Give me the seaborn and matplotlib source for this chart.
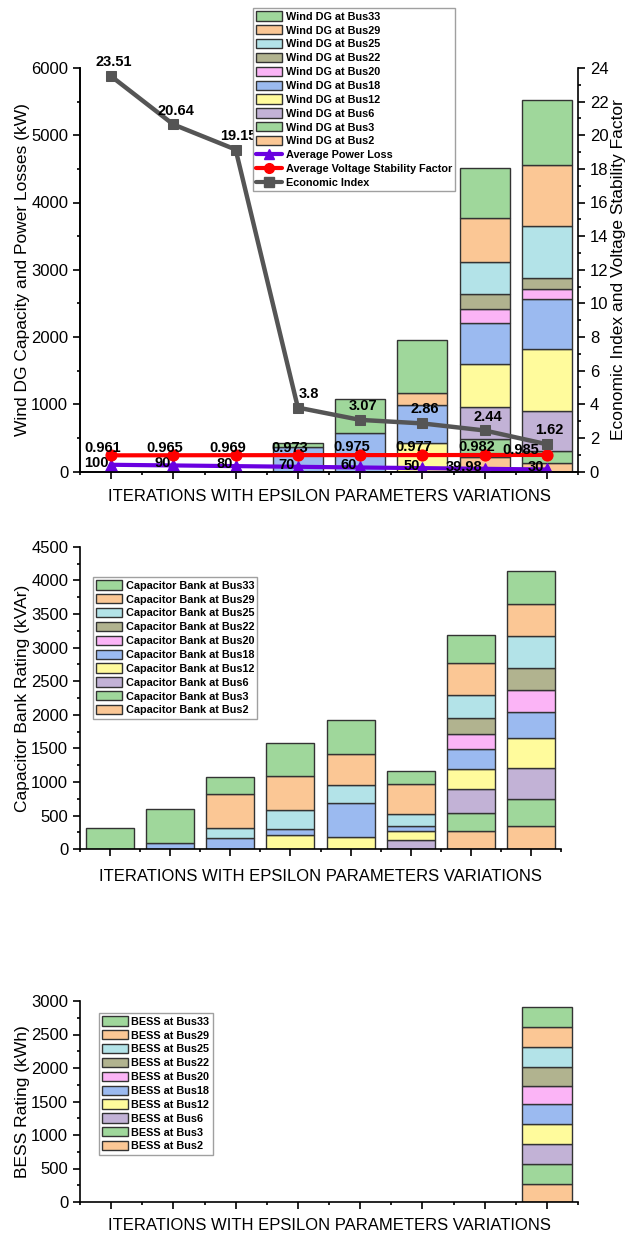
import numpy as np
import pandas as pd
import matplotlib
matplotlib.use("Agg")
import matplotlib.pyplot as plt
import seaborn as sns
from matplotlib.ticker import MultipleLocator, FixedLocator, NullFormatter
from matplotlib.patches import Patch
from matplotlib.lines import Line2D

# ---------------------------------------------------------------- data
iterations = ["1", "2", "3", "4", "5", "6", "7", "8"]
buses = ["Bus2", "Bus3", "Bus6", "Bus12", "Bus18", "Bus20", "Bus22", "Bus25", "Bus29", "Bus33"]

# Wind DG capacity (kW) per bus, one value per iteration
wind_bus2 = [0, 0, 0, 0, 0, 0, 210, 125]
wind_bus3 = [0, 0, 0, 0, 0, 0, 280, 175]
wind_bus6 = [0, 0, 0, 0, 0, 0, 465, 600]
wind_bus12 = [0, 0, 0, 0, 0, 430, 645, 920]
wind_bus18 = [0, 0, 0, 360, 570, 555, 610, 740]
wind_bus20 = [0, 0, 0, 0, 0, 0, 210, 150]
wind_bus22 = [0, 0, 0, 0, 0, 0, 225, 165]
wind_bus25 = [0, 0, 0, 0, 0, 0, 475, 770]
wind_bus29 = [0, 0, 0, 0, 0, 185, 655, 920]
wind_bus33 = [0, 0, 0, 60, 510, 785, 735, 955]

# Capacitor bank rating (kVAr)
cap_bus2 = [0, 0, 0, 0, 0, 0, 265, 350]
cap_bus3 = [0, 0, 0, 0, 0, 0, 280, 405]
cap_bus6 = [0, 0, 0, 0, 0, 140, 345, 460]
cap_bus12 = [0, 0, 0, 215, 180, 135, 310, 435]
cap_bus18 = [0, 90, 165, 85, 505, 65, 285, 385]
cap_bus20 = [0, 0, 0, 0, 0, 0, 230, 335]
cap_bus22 = [0, 0, 0, 0, 0, 0, 235, 325]
cap_bus25 = [0, 0, 150, 280, 275, 185, 345, 470]
cap_bus29 = [0, 0, 505, 505, 460, 445, 470, 485]
cap_bus33 = [310, 505, 260, 495, 505, 200, 420, 485]

# BESS rating (kWh)
bess_bus2 = [0, 0, 0, 0, 0, 0, 0, 273]
bess_bus3 = [0, 0, 0, 0, 0, 0, 0, 298]
bess_bus6 = [0, 0, 0, 0, 0, 0, 0, 293]
bess_bus12 = [0, 0, 0, 0, 0, 0, 0, 298]
bess_bus18 = [0, 0, 0, 0, 0, 0, 0, 302]
bess_bus20 = [0, 0, 0, 0, 0, 0, 0, 273]
bess_bus22 = [0, 0, 0, 0, 0, 0, 0, 283]
bess_bus25 = [0, 0, 0, 0, 0, 0, 0, 293]
bess_bus29 = [0, 0, 0, 0, 0, 0, 0, 302]
bess_bus33 = [0, 0, 0, 0, 0, 0, 0, 302]

# Line series
power_loss = [100, 90, 80, 70, 60, 50, 39.98, 30]
voltage_stability = [0.961, 0.965, 0.969, 0.973, 0.975, 0.977, 0.982, 0.985]
economic_index = [23.51, 20.64, 19.15, 3.8, 3.07, 2.86, 2.44, 1.62]

x_title = "ITERATIONS WITH EPSILON PARAMETERS VARIATIONS"


def long_frame(series):
    rows = []
    for bus, vals in zip(buses, series):
        for it, v in zip(iterations, vals):
            rows.append({"iteration": it, "bus": bus, "value": v})
    return pd.DataFrame(rows)


wind_df = long_frame([wind_bus2, wind_bus3, wind_bus6, wind_bus12, wind_bus18,
                      wind_bus20, wind_bus22, wind_bus25, wind_bus29, wind_bus33])
cap_df = long_frame([cap_bus2, cap_bus3, cap_bus6, cap_bus12, cap_bus18,
                     cap_bus20, cap_bus22, cap_bus25, cap_bus29, cap_bus33])
bess_df = long_frame([bess_bus2, bess_bus3, bess_bus6, bess_bus12, bess_bus18,
                      bess_bus20, bess_bus22, bess_bus25, bess_bus29, bess_bus33])

# ---------------------------------------------------------------- style
sns.set_style("ticks")
plt.rcParams["font.family"] = ["Liberation Sans", "DejaVu Sans"]
plt.rcParams["axes.linewidth"] = 1.2
for key in ("text.color", "axes.labelcolor", "xtick.color", "ytick.color", "axes.edgecolor"):
    plt.rcParams[key] = "black"

GREEN = "#9fd79b"
PEACH = "#fbc795"
bus_colors = {
    "Bus2": PEACH, "Bus3": GREEN, "Bus6": "#c2b2d6", "Bus12": "#fffb9c",
    "Bus18": "#9bbaf0", "Bus20": "#fbb4f6", "Bus22": "#b1b38f",
    "Bus25": "#b3e3e8", "Bus29": PEACH, "Bus33": GREEN,
}
EDGE = "#333333"
PURPLE = "#6a00e0"
RED = "#ff0000"
GREY = "#555555"


def stacked_bars(ax, frame):
    base = pd.Series(0.0, index=iterations)
    for bus in buses:
        sub = frame[(frame.bus == bus) & (frame.value > 0)]
        if not sub.empty:
            sns.barplot(data=sub, x="iteration", y="value", order=iterations,
                        color=bus_colors[bus], saturation=1, width=0.8,
                        bottom=base[sub.iteration].to_numpy(),
                        edgecolor=EDGE, linewidth=1.0, errorbar=None, ax=ax)
        base = base.add(frame[frame.bus == bus].set_index("iteration")["value"], fill_value=0)


def style_axis(ax, ymax, ymajor, yminor, ylabel, xpad):
    ax.set_xlim(-0.5, len(iterations) - 0.5)
    ax.set_ylim(0, ymax)
    ax.yaxis.set_major_locator(MultipleLocator(ymajor))
    ax.yaxis.set_minor_locator(MultipleLocator(yminor))
    ax.xaxis.set_major_locator(FixedLocator(np.arange(len(iterations))))
    ax.xaxis.set_minor_locator(FixedLocator(np.arange(-0.5, len(iterations), 1.0)))
    ax.xaxis.set_major_formatter(NullFormatter())
    ax.tick_params(axis="both", which="major", direction="out", length=5, width=1.2,
                   labelsize=12, colors="black")
    ax.tick_params(axis="both", which="minor", direction="out", length=2.5, width=1.2)
    ax.set_xlabel(x_title, fontsize=12, labelpad=xpad)
    ax.set_ylabel(ylabel, fontsize=12.5, labelpad=1)
    for s in ("top", "right"):
        ax.spines[s].set_visible(False)


def bus_legend(ax, prefix, anchor, extra_handles=(), extra_labels=()):
    handles = [Patch(facecolor=bus_colors[b], edgecolor=EDGE, linewidth=1.0)
               for b in reversed(buses)] + list(extra_handles)
    labels = [f"{prefix} at {b}" for b in reversed(buses)] + list(extra_labels)
    leg = ax.legend(handles, labels, loc="upper left", bbox_to_anchor=anchor,
                    bbox_transform=fig.transFigure, borderaxespad=0,
                    prop=dict(weight="bold", size=7.8), frameon=True, fancybox=False,
                    edgecolor="#a0a0a0", framealpha=1, borderpad=0.3,
                    labelspacing=0.32, handlelength=2.4, handleheight=0.95,
                    handletextpad=0.3)
    leg.get_frame().set_linewidth(1.0)
    leg.set_zorder(20)
    return leg


W, H = 639, 1237
fig = plt.figure(figsize=(W / 100, H / 100), dpi=100)
ax_top = fig.add_axes([80 / W, 1 - 471.5 / H, 498 / W, (471.5 - 68) / H])
ax_mid = fig.add_axes([80 / W, 1 - 849.3 / H, 481 / W, (849.3 - 546.7) / H])
ax_bot = fig.add_axes([80 / W, 1 - 1202 / H, 498 / W, (1202 - 1001) / H])

pos = np.arange(len(iterations))
LABEL_FONT = dict(fontsize=10.5, fontweight="bold", color="black")

# ---------------------------------------------------------------- top panel
stacked_bars(ax_top, wind_df)
style_axis(ax_top, 6000, 1000, 500, "Wind DG Capacity and Power Losses (kW)", 4)

sns.lineplot(x=pos, y=power_loss, ax=ax_top, color=PURPLE, lw=3, marker="^",
             markersize=8, markeredgecolor=PURPLE, zorder=10)
for xi, v in zip(pos, power_loss):
    ax_top.annotate(f"{v:g}", (xi, v), xytext=(-2, 1.5), textcoords="offset points",
                    ha="right", va="center", zorder=11, **LABEL_FONT)

ax_r = ax_top.twinx()
sns.lineplot(x=pos, y=voltage_stability, ax=ax_r, color=RED, lw=3, marker="o",
             markersize=8, markeredgecolor=RED, zorder=10)
sns.lineplot(x=pos, y=economic_index, ax=ax_r, color=GREY, lw=3.2, marker="s",
             markersize=7.5, markeredgecolor=GREY, zorder=10)
ax_r.set_ylim(0, 24)
ax_r.set_xlim(-0.5, len(iterations) - 0.5)
ax_r.yaxis.set_major_locator(MultipleLocator(2))
ax_r.yaxis.set_minor_locator(MultipleLocator(1))
ax_r.tick_params(axis="y", which="major", direction="out", length=5, width=1.2,
                 labelsize=12, colors="black")
ax_r.tick_params(axis="y", which="minor", direction="out", length=2.5, width=1.2)
ax_r.spines["top"].set_visible(False)
ax_r.set_ylabel("Economic Index and Voltage Stability Factor", fontsize=12.5, labelpad=2)

for i, (xi, v) in enumerate(zip(pos, voltage_stability)):
    dx, dy = (-19, 3.5) if i == len(pos) - 1 else (-6, 5.5)
    ax_r.annotate(f"{v:g}", (xi, v), xytext=(dx, dy), textcoords="offset points",
                  ha="center", va="center", zorder=11, **LABEL_FONT)
for i, (xi, v) in enumerate(zip(pos, economic_index)):
    dx = 8 if i == 3 else 2
    ax_r.annotate(f"{v:g}", (xi, v), xytext=(dx, 5), textcoords="offset points",
                  ha="center", va="bottom", zorder=11, **LABEL_FONT)

line_handles = [
    Line2D([], [], color=PURPLE, lw=3, marker="^", markersize=7, markeredgecolor=PURPLE),
    Line2D([], [], color=RED, lw=3, marker="o", markersize=7, markeredgecolor=RED),
    Line2D([], [], color=GREY, lw=3, marker="s", markersize=6.5, markeredgecolor=GREY),
]
bus_legend(ax_r, "Wind DG", (253 / W, 1 - 8 / H), line_handles,
           ["Average Power Loss", "Average Voltage Stability Factor", "Economic Index"])

# ---------------------------------------------------------------- middle panel
stacked_bars(ax_mid, cap_df)
style_axis(ax_mid, 4500, 500, 250, "Capacitor Bank Rating (kVAr)", 5.5)
bus_legend(ax_mid, "Capacitor Bank", (93 / W, 1 - 577 / H))

# ---------------------------------------------------------------- bottom panel
stacked_bars(ax_bot, bess_df)
style_axis(ax_bot, 3000, 500, 250, "BESS Rating (kWh)", 3)
bus_legend(ax_bot, "BESS", (99 / W, 1 - 1013 / H))

fig.savefig("out.png", dpi=100)
